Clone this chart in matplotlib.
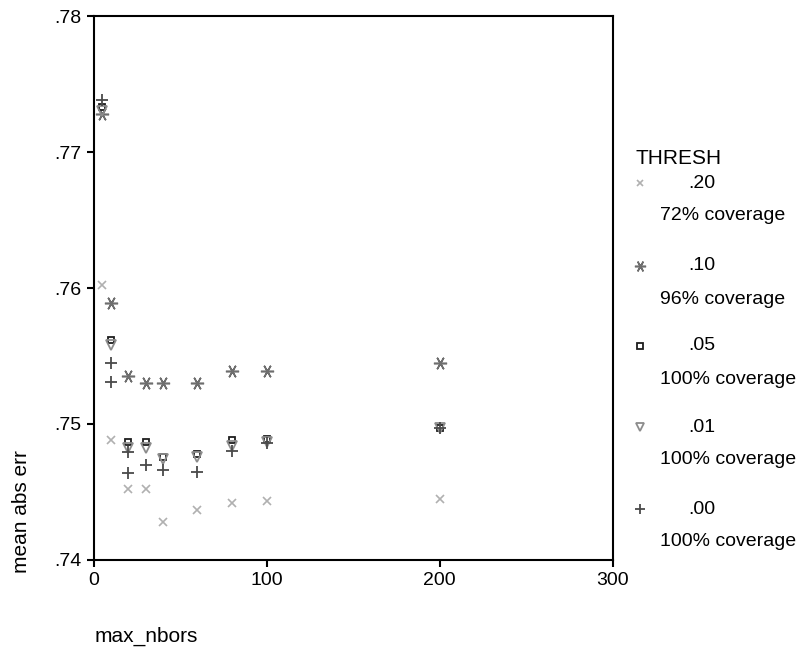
import matplotlib
matplotlib.use("Agg")
import matplotlib.pyplot as plt
from matplotlib.ticker import FuncFormatter

plt.rcParams['font.family'] = ['Liberation Sans', 'DejaVu Sans']

# max_nbors values
x = [5, 10, 20, 30, 40, 60, 80, 100, 200]
x_00 = [5, 10, 10, 20, 20, 30, 40, 60, 80, 100, 200]

# mean abs err per THRESH
err_20 = [.7602, .7488, .7452, .7452, .7428, .7437, .7442, .7443, .7445]
err_10 = [.7728, .7589, .7535, .7530, .7530, .7530, .7539, .7539, .7545]
err_05 = [.7733, .7562, .7487, .7487, .7476, .7478, .7488, .7489, .7497]
err_01 = [.7730, .7558, .7482, .7482, .7474, .7476, .7484, .7487, .7497]
err_00 = [.7738, .7545, .7531, .7479, .7464, .7470, .7466, .7465, .7480, .7486, .7497]

thresh = [".20", ".10", ".05", ".01", ".00"]
coverage = ["72% coverage", "96% coverage", "100% coverage", "100% coverage", "100% coverage"]

styles = [
    dict(marker="x", color="#b0b0b0", ms=5.5, mew=1.2),
    dict(marker=(6, 2, 90), color="#6e6e6e", ms=9.5, mew=1.15),
    dict(marker="s", color="#1e1e1e", ms=5, mew=1.3, mfc="none"),
    dict(marker="v", color="#8c8c8c", ms=6.5, mew=1.3, mfc="none"),
    dict(marker="+", color="#4a4a4a", ms=8.5, mew=1.3),
]

fig = plt.figure(figsize=(8, 6.48), dpi=100)
ax = fig.add_axes([0.117, 0.136, 0.649, 0.839])

series = [(x, err_20), (x, err_10), (x, err_05), (x, err_01), (x_00, err_00)]
for (xs, ys), st in zip(series, styles):
    ax.plot(xs, ys, ls="none", **st)

ax.set_xlim(0, 300)
ax.set_ylim(.74, .78)
ax.set_xticks([0, 100, 200, 300])
ax.set_yticks([.74, .75, .76, .77, .78])
ax.yaxis.set_major_formatter(FuncFormatter(lambda v, p: f"{v:.2f}".lstrip("0")))
ax.tick_params(direction="out", length=5, width=1.5, labelsize=14, colors="black")
for sp in ax.spines.values():
    sp.set_linewidth(1.5)

fig.text(22 / 800, 1 - 512 / 648, "mean abs err", rotation=90, ha="center", va="center", fontsize=15)
fig.text(95 / 800, 1 - 636 / 648, "max_nbors", ha="left", va="center", fontsize=15)

# legend drawn by hand
leg = fig.add_axes([0, 0, 1, 1], facecolor="none")
leg.set_xlim(0, 800)
leg.set_ylim(648, 0)
leg.axis("off")
leg.text(636, 158, "THRESH", ha="left", va="center", fontsize=15)
row_y = [183, 266, 346, 427, 509]
for i, st in enumerate(styles):
    small = dict(st, ms=st["ms"] * 0.85)
    leg.plot([640], [row_y[i]], ls="none", **small)
    leg.text(688, row_y[i], thresh[i], ha="left", va="center", fontsize=14)
    leg.text(660, row_y[i] + 33, coverage[i], ha="left", va="center", fontsize=14)

fig.savefig("out.png", dpi=100)
